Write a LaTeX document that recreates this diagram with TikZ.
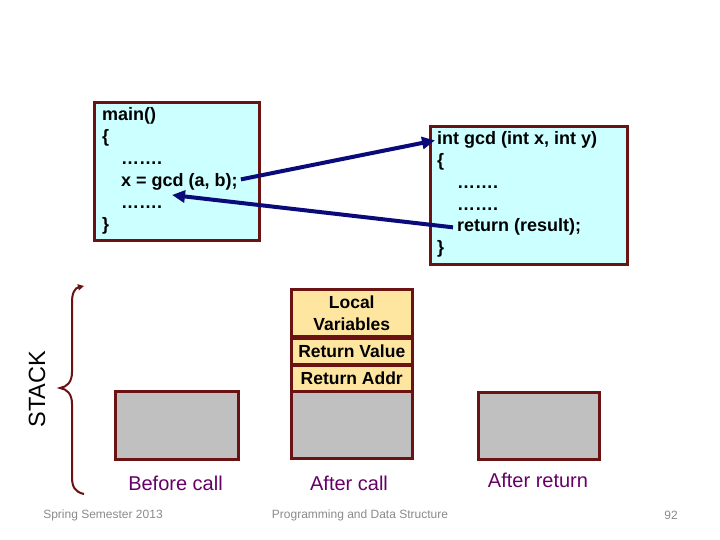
\documentclass[tikz,border=0pt]{standalone}
\usepackage{fontspec}
\setmainfont{Liberation Sans}
\usetikzlibrary{arrows.meta}
\definecolor{maroonb}{HTML}{6B1212}
\definecolor{codecyan}{HTML}{CCFFFF}
\definecolor{stackyellow}{HTML}{FFE6A0}
\definecolor{stackgray}{HTML}{C0C0C0}
\definecolor{arrownavy}{HTML}{0A0A7A}
\definecolor{labelpurple}{HTML}{660066}
\definecolor{footgray}{HTML}{8A8A8A}
\tikzset{
  codebox/.style={draw=maroonb, line width=3pt, fill=codecyan, anchor=north west, inner sep=0pt},
  code/.style={font=\fontsize{18}{21}\selectfont\bfseries, anchor=base west, inner sep=0pt},
  cell/.style={draw=maroonb, line width=2.5pt, fill=stackyellow, anchor=north west, inner sep=0pt, minimum width=121pt,
    font=\fontsize{17.5}{22}\selectfont\bfseries, align=center},
  graycell/.style={draw=maroonb, line width=3pt, fill=stackgray, anchor=north west, inner sep=0pt},
  caption/.style={font=\fontsize{20}{24}\selectfont, text=labelpurple, inner sep=0pt},
  footer/.style={font=\fontsize{12}{14}\selectfont, text=footgray, inner sep=0pt},
  callarrow/.style={draw=arrownavy, line width=4pt, -{Triangle[length=13pt,width=12pt]}},
}
\begin{document}
\begin{tikzpicture}[x=1pt,y=-1pt]
\useasboundingbox (0,0) rectangle (720,540);

% code boxes
\node[codebox, minimum width=165pt, minimum height=138pt] (mainbox) at (93,101) {};
\node[codebox, minimum width=197pt, minimum height=138pt] (gcdbox) at (429,125) {};

\node[code] (m1) at (102,121) {main()};
\node[code] (m2) at (102,143) {\{};
\node[code] (m3) at (121,165) {…….};
\node[code] (xline) at (121,187) {x = gcd (a, b);};
\node[code] (m5) at (121,209) {…….};
\node[code] (m6) at (102,230) {\}};

\node[code] (gcdhead) at (437,145) {int gcd (int x, int y)};
\node[code] (g2) at (437,167) {\{};
\node[code] (g3) at (457,189) {…….};
\node[code] (g4) at (457,211) {…….};
\node[code] (ret) at (457,232) {return (result);};
\node[code] (g6) at (437,253) {\}};

\coordinate (rettip) at (172,195);
\draw[callarrow] ([xshift=3pt,yshift=3pt]xline.east) -- ([xshift=-2pt]gcdhead.west);
\draw[callarrow] ([xshift=-4pt]ret.west) -- (rettip);

% stacks
\node[graycell, minimum width=123pt, minimum height=68pt] (before) at (114,390) {};
\node[cell, minimum height=47pt] (locals) at (290,288) {Local\\Variables};
\node[cell, minimum height=26pt] (retval) at (290,337) {Return Value};
\node[cell, minimum height=26pt] (retaddr) at (290,364) {Return Addr};
\node[graycell, minimum width=121pt, minimum height=67pt] (aftergray) at (290,390) {};
\node[graycell, minimum width=121pt, minimum height=67pt] (afterret) at (477,391) {};

\node[caption] (lbefore) at (175.5,483) {Before call};
\node[caption] (lafter) at (349,483) {After call};
\node[caption] (lafterret) at (538,480) {After return};

% STACK brace
\node[font=\fontsize{23.5}{28}\selectfont, rotate=90, inner sep=0pt] (stacklbl) at (37,389) {STACK};
\draw[maroonb, line width=2pt, -{Triangle[length=6pt,width=6pt]}]
  (84,494) .. controls (75,492) and (72,487) .. (72,477) -- (72,404)
  .. controls (72,394) and (67,389) .. (60,388)
  .. controls (67,387) and (72,382) .. (72,372) -- (72,302)
  .. controls (72,293) and (75,288) .. (84,286);

% footer
\node[footer] (f1) at (103,515) {Spring Semester 2013};
\node[footer] (f2) at (360,515) {Programming and Data Structure};
\node[footer] (f3) at (671,515) {92};
\end{tikzpicture}
\end{document}
